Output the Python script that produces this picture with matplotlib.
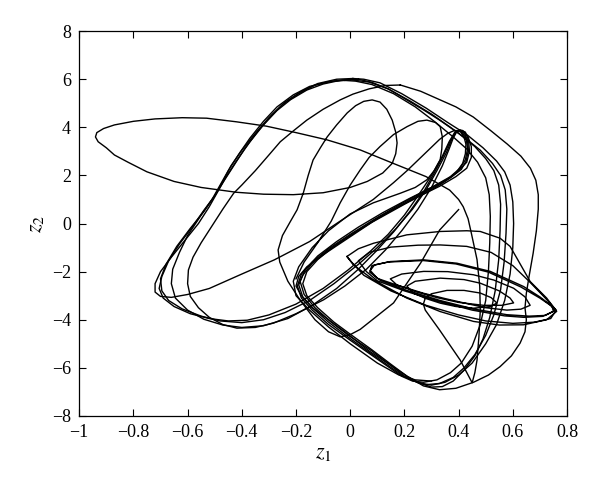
import matplotlib
matplotlib.use("Agg")
import numpy as np
import matplotlib.pyplot as plt

plt.rcParams['font.family'] = ['Liberation Serif', 'DejaVu Serif']
plt.rcParams['mathtext.fontset'] = 'stix'

# ── trajectory pieces, (z1, z2) ────────────────────────────────────
# start point, thin inner loop, left wing, drop to the notch
start_wing = [(0.40, 0.58), (0.33, -0.27), (0.26, -1.64), (0.16, -3.3), (0.037, -4.4),
              (0.0, -4.62), (-0.037, -4.71), (-0.08, -4.5), (-0.13, -4.0), (-0.185, -3.18),
              (-0.23, -2.4), (-0.26, -1.6), (-0.266, -1.1), (-0.25, -0.5), (-0.22, 0.1),
              (-0.196, 0.57), (-0.173, 1.27), (-0.155, 2.0), (-0.137, 2.64), (-0.11, 3.15),
              (-0.085, 3.6), (-0.05, 4.1), (-0.011, 4.6), (0.02, 4.9), (0.05, 5.08),
              (0.081, 5.14), (0.11, 5.05), (0.135, 4.75), (0.155, 4.3), (0.168, 3.8),
              (0.173, 3.35), (0.168, 2.9), (0.155, 2.5), (0.12, 2.1), (0.063, 1.75),
              (0.0, 1.5), (-0.1, 1.28), (-0.21, 1.2), (-0.32, 1.22), (-0.42, 1.3),
              (-0.55, 1.5), (-0.65, 1.75), (-0.75, 2.15), (-0.82, 2.55), (-0.87, 2.85),
              (-0.9, 3.15), (-0.93, 3.4), (-0.94, 3.6), (-0.935, 3.78), (-0.91, 3.95),
              (-0.87, 4.1), (-0.8, 4.25), (-0.72, 4.35), (-0.62, 4.4), (-0.53, 4.38),
              (-0.42, 4.23), (-0.31, 4.05), (-0.2, 3.78), (-0.086, 3.48), (0.037, 3.06),
              (0.159, 2.5), (0.28, 1.95), (0.367, 1.39), (0.4, 1.0), (0.417, 0.7),
              (0.435, 0.2), (0.447, -0.4), (0.468, -1.5), (0.478, -2.6), (0.48, -3.6),
              (0.475, -4.7), (0.468, -5.68), (0.46, -6.2), (0.45, -6.62), (0.435, -6.3),
              (0.406, -5.68), (0.33, -4.43), (0.277, -3.6), (0.27, -3.35)]

# spiral, from the centre outwards
spiral = [(0.27, -3.35), (0.277, -3.1), (0.3, -2.92), (0.357, -2.78), (0.42, -2.78),
          (0.48, -2.89), (0.52, -3.08), (0.541, -3.3), (0.52, -3.45), (0.455, -3.52),
          (0.39, -3.45), (0.332, -3.31), (0.28, -3.12), (0.234, -2.9), (0.209, -2.6),
          (0.24, -2.4), (0.332, -2.27), (0.42, -2.33), (0.48, -2.48), (0.55, -2.8),
          (0.59, -3.1), (0.603, -3.3), (0.56, -3.4), (0.492, -3.4), (0.4, -3.28),
          (0.32, -3.08), (0.24, -2.82), (0.172, -2.55), (0.148, -2.3), (0.19, -2.1),
          (0.271, -1.99), (0.36, -2.0), (0.455, -2.13), (0.53, -2.35), (0.603, -2.69),
          (0.645, -3.05), (0.664, -3.4), (0.63, -3.56), (0.578, -3.6), (0.5, -3.5),
          (0.431, -3.33), (0.35, -3.12), (0.271, -2.9), (0.17, -2.55), (0.1, -2.28),
          (0.074, -1.95), (0.09, -1.72), (0.148, -1.58), (0.271, -1.51), (0.394, -1.65),
          (0.517, -1.99), (0.64, -2.62), (0.7, -3.05), (0.74, -3.4), (0.755, -3.62),
          (0.72, -3.82), (0.66, -3.85), (0.578, -3.79), (0.455, -3.55), (0.332, -3.2),
          (0.209, -2.78), (0.111, -2.36), (0.072, -2.02), (0.08, -1.75), (0.14, -1.6),
          (0.27, -1.54), (0.39, -1.68), (0.51, -2.02), (0.63, -2.64), (0.7, -3.1),
          (0.745, -3.45), (0.75, -3.65), (0.71, -3.86), (0.64, -3.9), (0.57, -3.84),
          (0.45, -3.6), (0.33, -3.24), (0.2, -2.8), (0.1, -2.38), (0.06, -2.0),
          (0.03, -1.55), (0.07, -1.2), (0.15, -0.98), (0.25, -0.9), (0.332, -0.89),
          (0.43, -0.95), (0.52, -1.2), (0.6, -1.75), (0.66, -2.4), (0.72, -3.1),
          (0.76, -3.6), (0.74, -3.95), (0.68, -4.1), (0.6, -4.15), (0.5, -4.05),
          (0.4, -3.8), (0.28, -3.4), (0.15, -2.8), (0.05, -2.15), (0.005, -1.6),
          (-0.012, -1.37), (0.03, -1.05), (0.086, -0.82), (0.209, -0.47), (0.332, -0.33),
          (0.43, -0.3), (0.48, -0.33), (0.553, -0.61), (0.59, -0.95), (0.615, -1.44),
          (0.664, -2.41), (0.725, -3.1), (0.762, -3.65), (0.725, -4.0), (0.64, -4.21),
          (0.55, -4.22), (0.455, -4.07), (0.332, -3.66), (0.209, -3.1), (0.086, -2.34),
          (0.012, -1.72), (-0.012, -1.37)]

loop1 = [(0.03, 6.0), (-0.03, 5.97), (-0.1, 5.8), (-0.16, 5.55), (-0.22, 5.15),
         (-0.27, 4.7), (-0.32, 4.1), (-0.37, 3.4), (-0.42, 2.6), (-0.46, 1.9),
         (-0.49, 1.3), (-0.52, 0.7), (-0.56, 0.0), (-0.61, -0.7), (-0.66, -1.4),
         (-0.7, -2.0), (-0.72, -2.5), (-0.72, -2.85), (-0.7, -3.03), (-0.66, -3.07),
         (-0.6, -2.95), (-0.52, -2.7), (-0.4, -2.1), (-0.28, -1.51), (-0.15, -0.75),
         (-0.037, 0.1), (0.085, 1.0), (0.16, 1.7), (0.21, 2.2), (0.27, 2.85), (0.33, 3.5),
         (0.36, 3.75), (0.385, 3.87), (0.405, 3.85), (0.42, 3.6), (0.427, 3.3),
         (0.425, 2.9), (0.415, 2.5), (0.39, 2.1), (0.35, 1.75), (0.3, 1.4), (0.2, 0.8),
         (0.08, 0.05), (-0.02, -0.7), (-0.1, -1.3), (-0.16, -1.8), (-0.19, -2.2),
         (-0.2, -2.6), (-0.18, -3.0), (-0.14, -3.5), (-0.08, -4.0), (-0.02, -4.5),
         (0.07, -5.3), (0.15, -5.9), (0.21, -6.35), (0.26, -6.65), (0.3, -6.8),
         (0.34, -6.78), (0.38, -6.55), (0.42, -6.1), (0.46, -5.5), (0.49, -4.8),
         (0.515, -3.9), (0.535, -2.8), (0.548, -1.5), (0.553, -0.3), (0.555, 0.8),
         (0.548, 1.6), (0.53, 2.2), (0.5, 2.7), (0.46, 3.2), (0.4, 3.75), (0.33, 4.3),
         (0.27, 4.73), (0.2, 5.2), (0.14, 5.6), (0.08, 5.87), (0.03, 6.0)]

loop2 = [(0.01, 6.03), (-0.05, 6.0), (-0.12, 5.82), (-0.18, 5.5), (-0.24, 5.05),
         (-0.29, 4.5), (-0.34, 3.85), (-0.39, 3.1), (-0.43, 2.4), (-0.47, 1.7),
         (-0.5, 1.15), (-0.54, 0.5), (-0.59, -0.2), (-0.64, -0.95), (-0.68, -1.7),
         (-0.7, -2.3), (-0.695, -2.8), (-0.67, -3.2), (-0.62, -3.55), (-0.55, -3.85),
         (-0.48, -4.05), (-0.4, -4.12), (-0.32, -4.0), (-0.24, -3.7), (-0.15, -3.2),
         (-0.06, -2.5), (0.03, -1.7), (0.1, -1.0), (0.17, -0.2), (0.23, 0.6), (0.28, 1.4),
         (0.32, 2.2), (0.355, 2.95), (0.375, 3.5), (0.39, 3.82), (0.41, 3.82),
         (0.428, 3.55), (0.433, 3.1), (0.425, 2.65), (0.405, 2.3), (0.37, 1.95),
         (0.3, 1.5), (0.22, 1.05), (0.12, 0.45), (0.03, -0.15), (-0.05, -0.75),
         (-0.12, -1.35), (-0.165, -1.9), (-0.185, -2.4), (-0.17, -2.95), (-0.13, -3.5),
         (-0.07, -4.1), (0.0, -4.7), (0.08, -5.3), (0.15, -5.9), (0.2, -6.35),
         (0.25, -6.62), (0.3, -6.72), (0.35, -6.6), (0.4, -6.3), (0.45, -5.8),
         (0.5, -5.0), (0.54, -4.2), (0.57, -3.2), (0.59, -2.1), (0.6, -1.0),
         (0.603, 0.0), (0.6, 0.9), (0.59, 1.6), (0.57, 2.15), (0.54, 2.6), (0.49, 3.15),
         (0.43, 3.7), (0.36, 4.2), (0.28, 4.8), (0.19, 5.4), (0.11, 5.85), (0.05, 6.0),
         (0.01, 6.03)]

loop3 = [(-0.02, 5.95), (-0.08, 5.9), (-0.15, 5.7), (-0.21, 5.35), (-0.27, 4.85),
         (-0.32, 4.25), (-0.37, 3.55), (-0.41, 2.9), (-0.45, 2.2), (-0.48, 1.6),
         (-0.51, 1.0), (-0.55, 0.35), (-0.6, -0.5), (-0.63, -1.2), (-0.655, -1.9),
         (-0.66, -2.5), (-0.645, -3.1), (-0.6, -3.6), (-0.54, -3.98), (-0.47, -4.22),
         (-0.4, -4.32), (-0.32, -4.25), (-0.23, -3.95), (-0.14, -3.4), (-0.05, -2.7),
         (0.03, -1.9), (0.1, -1.1), (0.16, -0.35), (0.22, 0.5), (0.27, 1.3), (0.31, 2.1),
         (0.345, 2.85), (0.37, 3.45), (0.39, 3.8), (0.405, 3.9), (0.425, 3.8),
         (0.437, 3.45), (0.44, 3.0), (0.43, 2.55), (0.4, 2.2), (0.36, 1.85), (0.3, 1.5),
         (0.2, 0.9), (0.1, 0.25), (0.0, -0.45), (-0.08, -1.05), (-0.14, -1.6),
         (-0.18, -2.1), (-0.195, -2.6), (-0.18, -3.1), (-0.14, -3.6), (-0.08, -4.2),
         (0.0, -4.85), (0.07, -5.4), (0.14, -5.95), (0.19, -6.35), (0.23, -6.55),
         (0.27, -6.6), (0.32, -6.5), (0.37, -6.2), (0.41, -5.8), (0.45, -5.1),
         (0.48, -4.2), (0.5, -3.2), (0.51, -2.0), (0.515, -0.8), (0.517, 0.3),
         (0.513, 1.2), (0.5, 1.9), (0.47, 2.55), (0.43, 3.1), (0.38, 3.6), (0.31, 4.25),
         (0.24, 4.85), (0.16, 5.4), (0.08, 5.78), (0.02, 5.92), (-0.02, 5.95)]

loop4 = [(0.185, 5.76), (0.13, 5.74), (0.07, 5.6), (0.01, 5.38), (-0.037, 5.14),
         (-0.1, 4.75), (-0.16, 4.3), (-0.21, 3.85), (-0.258, 3.4), (-0.3, 2.85),
         (-0.35, 2.2), (-0.4, 1.6), (-0.43, 1.26), (-0.47, 0.6), (-0.51, -0.1),
         (-0.55, -0.8), (-0.58, -1.4), (-0.597, -1.93), (-0.6, -2.5), (-0.59, -3.03),
         (-0.56, -3.5), (-0.52, -3.9), (-0.47, -4.2), (-0.418, -4.35), (-0.35, -4.32),
         (-0.283, -4.14), (-0.2, -3.75), (-0.098, -3.17), (-0.02, -2.6), (0.06, -1.9),
         (0.13, -1.1), (0.19, -0.3), (0.25, 0.6), (0.3, 1.5), (0.34, 2.4), (0.365, 3.1),
         (0.38, 3.55), (0.395, 3.85), (0.415, 3.87), (0.435, 3.6), (0.447, 3.2),
         (0.447, 2.75), (0.43, 2.3), (0.39, 1.95), (0.33, 1.55), (0.23, 1.0), (0.12, 0.35),
         (0.02, -0.35), (-0.06, -0.95), (-0.12, -1.5), (-0.16, -2.0), (-0.175, -2.5),
         (-0.16, -3.0), (-0.12, -3.5), (-0.06, -4.1), (0.0, -4.6), (0.08, -5.25),
         (0.15, -5.85), (0.21, -6.35), (0.27, -6.75), (0.33, -6.91), (0.39, -6.85),
         (0.455, -6.6), (0.51, -6.3), (0.553, -5.95), (0.595, -5.5), (0.627, -4.97),
         (0.645, -4.5), (0.65, -4.0), (0.645, -3.5), (0.65, -2.9), (0.66, -2.2),
         (0.675, -1.24), (0.687, -0.3), (0.694, 0.6), (0.694, 1.2), (0.685, 1.8),
         (0.665, 2.3), (0.63, 2.8), (0.58, 3.3), (0.52, 3.85), (0.454, 4.43),
         (0.39, 4.85), (0.332, 5.14), (0.26, 5.5), (0.185, 5.76)]

loop5 = [(0.0, 5.98), (-0.06, 5.93), (-0.13, 5.75), (-0.19, 5.4), (-0.25, 4.95),
         (-0.3, 4.4), (-0.35, 3.75), (-0.4, 3.05), (-0.44, 2.4), (-0.47, 1.75),
         (-0.5, 1.15), (-0.54, 0.55), (-0.58, -0.1), (-0.63, -0.85), (-0.67, -1.55),
         (-0.695, -2.2), (-0.705, -2.7), (-0.69, -3.1), (-0.65, -3.45), (-0.59, -3.75),
         (-0.52, -3.95), (-0.45, -4.05), (-0.38, -4.02), (-0.3, -3.8), (-0.2, -3.35),
         (-0.1, -2.7), (-0.01, -1.95), (0.07, -1.2), (0.14, -0.45), (0.2, 0.35),
         (0.25, 1.15), (0.3, 2.0), (0.34, 2.8), (0.365, 3.4), (0.385, 3.78), (0.4, 3.88),
         (0.42, 3.78), (0.433, 3.45), (0.436, 3.05), (0.428, 2.6), (0.41, 2.25),
         (0.37, 1.9), (0.3, 1.45), (0.2, 0.85), (0.1, 0.2), (0.0, -0.5), (-0.08, -1.1),
         (-0.14, -1.65), (-0.175, -2.15), (-0.19, -2.55), (-0.175, -3.05),
         (-0.135, -3.55), (-0.08, -4.1), (-0.01, -4.7), (0.07, -5.35), (0.14, -5.9),
         (0.19, -6.3), (0.235, -6.55), (0.28, -6.7), (0.33, -6.65), (0.38, -6.4),
         (0.42, -6.0), (0.46, -5.45), (0.5, -4.65), (0.53, -3.8), (0.555, -2.75),
         (0.568, -1.6), (0.575, -0.4), (0.578, 0.6), (0.572, 1.4), (0.555, 2.0),
         (0.525, 2.5), (0.48, 3.05), (0.43, 3.5), (0.37, 4.0), (0.3, 4.55), (0.22, 5.1),
         (0.14, 5.6), (0.07, 5.88), (0.0, 5.98)]

# small S-loop peaking near (0.28, 4.3)
loop6 = [(-0.2, -2.3), (-0.17, -1.6), (-0.12, -0.8), (-0.07, 0.1), (-0.037, 0.86),
         (0.0, 1.6), (0.037, 2.23), (0.07, 2.75), (0.11, 3.2), (0.16, 3.7), (0.21, 4.03),
         (0.25, 4.25), (0.283, 4.3), (0.315, 4.2), (0.332, 4.03), (0.34, 3.6),
         (0.338, 3.1), (0.332, 2.65), (0.31, 2.2), (0.283, 1.82), (0.24, 1.5),
         (0.185, 1.26), (0.085, 0.86), (0.0, 0.4), (-0.08, -0.3), (-0.14, -1.0),
         (-0.19, -1.8), (-0.21, -2.4), (-0.2, -3.0), (-0.15, -3.6), (-0.08, -4.3),
         (0.0, -5.0), (0.1, -5.8), (0.18, -6.3), (0.24, -6.5), (0.3, -6.55)]

pieces = [start_wing, spiral, loop1, loop2, loop3, loop4, loop5, loop6]

x_ticks = [-1, -0.8, -0.6, -0.4, -0.2, 0, 0.2, 0.4, 0.6, 0.8]
y_ticks = [-8, -6, -4, -2, 0, 2, 4, 6, 8]


def fmt(v):
    s = f"{v:g}"
    return s.replace('-', '\u2212')


fig = plt.figure(figsize=(6.0, 4.94), dpi=100)
ax = fig.add_axes([0.132, 0.158, 0.813, 0.779])

for p in pieces:
    arr = np.array(p)
    ax.plot(arr[:, 0], arr[:, 1], color='black', linewidth=1.0,
            solid_joinstyle='round')

ax.set_xlim(-1, 0.8)
ax.set_ylim(-8, 8)
ax.set_xticks(x_ticks)
ax.set_yticks(y_ticks)
ax.set_xticklabels([fmt(v) for v in x_ticks])
ax.set_yticklabels([fmt(v) for v in y_ticks])
ax.tick_params(direction='in', top=True, right=True, length=5, width=0.8,
               labelsize=13, pad=6)
for spine in ax.spines.values():
    spine.set_linewidth(0.9)

ax.set_xlabel('$z_1$', fontsize=16, labelpad=2)
ax.set_ylabel('$z_2$', fontsize=16, labelpad=4)

fig.savefig('out.png', dpi=100, facecolor='white')
